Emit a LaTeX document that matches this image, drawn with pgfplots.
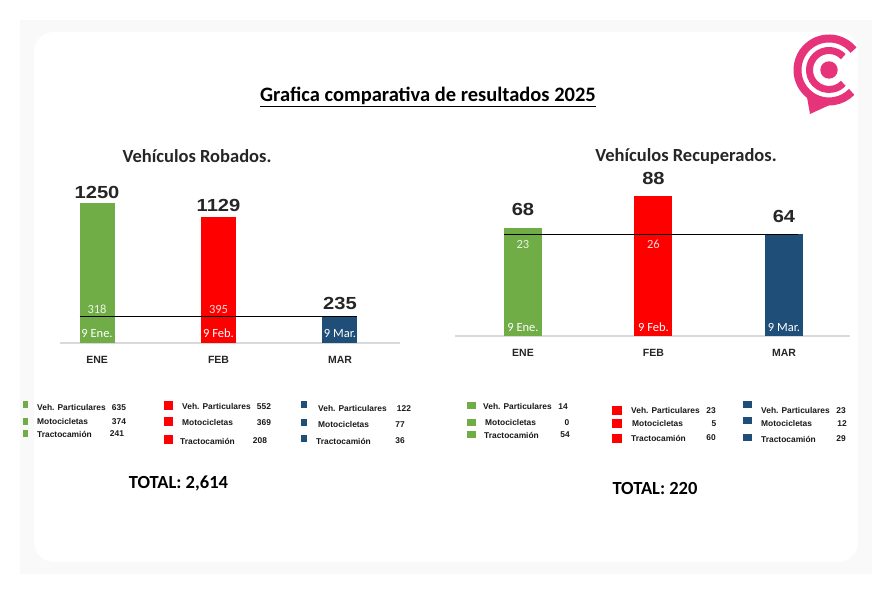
\documentclass[border=0pt]{standalone}
\usepackage{pgfplots}
\pgfplotsset{compat=1.18}
\usepackage{fontspec}
\setmainfont{Carlito}
\newfontfamily\arial{Liberation Sans}
\definecolor{cgreen}{HTML}{70AD47}
\definecolor{cred}{HTML}{FF0000}
\definecolor{cblue}{HTML}{1F4E79}
\definecolor{cpink}{HTML}{E6337A}
\definecolor{ctext}{HTML}{262626}
\definecolor{cbase}{HTML}{D9D9D9}
\newcommand\legf{\arial\bfseries\fontsize{8.4}{10}\selectfont}
\newcommand\sq[3]{\textcolor{#1}{\rule{#2pt}{#3pt}}}
\pgfplotsset{
  mybars/.style={
    scale only axis, anchor=south west, clip=false,
    ymin=0, axis y line=none, axis x line*=bottom,
    x axis line style={-, draw=cbase, line width=1.2pt},
    xtick={0,1,2}, xticklabels={ENE,FEB,MAR}, major tick length=0pt,
    xticklabel style={font=\arial\bfseries\fontsize{10.5}{12}\selectfont, text=ctext, yshift=-10pt},
    /pgf/number format/assume math mode=true,
    /pgf/number format/1000 sep={},
  },
  valnodes/.style={nodes near coords={\scalebox{1.15}[1]{\pgfmathprintnumber{\pgfplotspointmeta}}},
    nodes near coords style={font=\arial\bfseries\fontsize{17.5}{19}\selectfont, text=ctext, anchor=south, inner sep=0pt, yshift=#1}},
}
\begin{document}
\begin{tikzpicture}[x=1pt,y=1pt]
\useasboundingbox (0,0) rectangle (892,594);
\fill[white] (0,0) rectangle (892,594);
\fill[black!2.5] (20,20) rectangle (872,574);
\fill[white, rounded corners=20pt] (34,32) rectangle (858,562);
% titles
\node[font=\bfseries\fontsize{20.5}{24}\selectfont, text=black] at (428,{594-97}) {\underline{Grafica comparativa de resultados 2025}};
\node[font=\bfseries\fontsize{18.5}{21}\selectfont, text=ctext] at (197,{594-156}) {Vehículos Robados.};
\node[font=\bfseries\fontsize{18.5}{21}\selectfont, text=ctext] at (686,{594-156}) {Vehículos Recuperados.};
% left chart
\begin{axis}[mybars, at={(60pt,251pt)}, width=340pt, height=156.8pt, xmin=-0.305, xmax=2.494, ymax=1400]
\addplot[ybar, bar width=35pt, fill=cgreen, draw=none, valnodes=4pt] coordinates {(0,1250)};
\addplot[ybar, bar width=35pt, fill=cred, draw=none, valnodes=5pt] coordinates {(1,1129)};
\addplot[ybar, bar width=35pt, fill=cblue, draw=none, valnodes=7pt] coordinates {(2,235)};
\addplot[black, line width=0.8pt] coordinates {(-0.144,235) (2.144,235)};
\node[font=\fontsize{12.5}{14}\selectfont, text=white, opacity=0.85] at (axis cs:0,300) {318};
\node[font=\fontsize{12.5}{14}\selectfont, text=white, opacity=0.85] at (axis cs:1,300) {395};
\node[font=\fontsize{12.5}{14}\selectfont, text=white] at (axis cs:0,85) {9 Ene.};
\node[font=\fontsize{12.5}{14}\selectfont, text=white] at (axis cs:1,85) {9 Feb.};
\node[font=\fontsize{12.5}{14}\selectfont, text=white] at (axis cs:2,85) {9 Mar.};
\end{axis}
% right chart
\begin{axis}[mybars, at={(455pt,258pt)}, width=395pt, height=159pt, xmin=-0.521, xmax=2.506, ymax=100]
\addplot[ybar, bar width=38pt, fill=cgreen, draw=none, valnodes=12pt] coordinates {(0,68)};
\addplot[ybar, bar width=38pt, fill=cred, draw=none, valnodes=11pt] coordinates {(1,88)};
\addplot[ybar, bar width=38pt, fill=cblue, draw=none, valnodes=11pt] coordinates {(2,64)};
\addplot[black, line width=0.8pt] coordinates {(-0.146,64) (2.11,64)};
\node[font=\fontsize{12.5}{14}\selectfont, text=white, opacity=0.85] at (axis cs:0,57.5) {23};
\node[font=\fontsize{12.5}{14}\selectfont, text=white, opacity=0.85] at (axis cs:1,57.5) {26};
\node[font=\fontsize{12.5}{14}\selectfont, text=white] at (axis cs:0,5.5) {9 Ene.};
\node[font=\fontsize{12.5}{14}\selectfont, text=white] at (axis cs:1,5.5) {9 Feb.};
\node[font=\fontsize{12.5}{14}\selectfont, text=white] at (axis cs:2,5.5) {9 Mar.};
\end{axis}
% legends
\begin{scope}[every node/.style={font=\legf, text=black!90, inner sep=0pt}]
\node at (25.5,{594-405}) {\sq{cgreen}{5}{7}};
\node at (25.5,{594-422}) {\sq{cgreen}{5}{7}};
\node at (25.5,{594-434}) {\sq{cgreen}{5}{7}};
\node[anchor=west] at (37,{594-408}) {Veh. Particulares};
\node[anchor=west] at (37,{594-422}) {Motocicletas};
\node[anchor=west] at (37,{594-434}) {Tractocamión};
\node at (119,{594-408}) {635};
\node at (119,{594-422}) {374};
\node at (117,{594-434}) {241};
\node at (168.5,{594-406}) {\sq{cred}{9}{9}};
\node at (168.5,{594-422}) {\sq{cred}{9}{9}};
\node at (168.5,{594-440}) {\sq{cred}{9}{9}};
\node[anchor=west] at (182,{594-407}) {Veh. Particulares};
\node[anchor=west] at (182,{594-423}) {Motocicletas};
\node[anchor=west] at (180,{594-441}) {Tractocamión};
\node at (264,{594-407}) {552};
\node at (264,{594-423}) {369};
\node at (260,{594-441}) {208};
\node at (304,{594-405}) {\sq{cblue}{6.5}{7}};
\node at (304,{594-423}) {\sq{cblue}{6.5}{7}};
\node at (304,{594-439}) {\sq{cblue}{6.5}{7}};
\node[anchor=west] at (318,{594-409}) {Veh. Particulares};
\node[anchor=west] at (318,{594-425}) {Motocicletas};
\node[anchor=west] at (316,{594-441}) {Tractocamión};
\node at (404,{594-409}) {122};
\node at (400,{594-425}) {77};
\node at (400,{594-441}) {36};
\node at (471.5,{594-406}) {\sq{cgreen}{9}{7}};
\node at (471.5,{594-423}) {\sq{cgreen}{9}{7}};
\node at (471.5,{594-435}) {\sq{cgreen}{9}{7}};
\node[anchor=west] at (483,{594-407}) {Veh. Particulares};
\node[anchor=west] at (485,{594-423}) {Motocicletas};
\node[anchor=west] at (484,{594-435}) {Tractocamión};
\node at (563,{594-407}) {14};
\node at (567,{594-423}) {0};
\node at (565,{594-435}) {54};
\node at (617,{594-411}) {\sq{cred}{10}{9}};
\node at (617,{594-424}) {\sq{cred}{10}{9}};
\node at (617,{594-439}) {\sq{cred}{10}{9}};
\node[anchor=west] at (631,{594-411}) {Veh. Particulares};
\node[anchor=west] at (632,{594-424}) {Motocicletas};
\node[anchor=west] at (631,{594-438}) {Tractocamión};
\node at (711,{594-411}) {23};
\node at (714,{594-424}) {5};
\node at (711,{594-438}) {60};
\node at (747,{594-405}) {\sq{cblue}{9}{7}};
\node at (747,{594-421}) {\sq{cblue}{9}{7}};
\node at (747,{594-438}) {\sq{cblue}{9}{7}};
\node[anchor=west] at (761,{594-411}) {Veh. Particulares};
\node[anchor=west] at (761,{594-424}) {Motocicletas};
\node[anchor=west] at (761,{594-439}) {Tractocamión};
\node at (841,{594-411}) {23};
\node at (842,{594-424}) {12};
\node at (841,{594-439}) {29};
\end{scope}
% totals
\node[font=\bfseries\fontsize{18.5}{21}\selectfont, text=black] at (178.5,{594-483}) {TOTAL: 2,614};
\node[font=\bfseries\fontsize{18.5}{21}\selectfont, text=black] at (655,{594-489}) {TOTAL: 220};
% logo
\begin{scope}[shift={(829,{594-70})}]
\draw[cpink, line width=8pt] (39:31.5) arc[start angle=39, end angle=316, radius=31.5];
\draw[cpink, line width=7pt] (43:19.5) arc[start angle=43, end angle=317, radius=19.5];
\fill[cpink] (0,0) circle[radius=8.7];
\fill[cpink] (-24,-16) -- (-19,-44) -- (5,-33) -- (-8,-30) -- cycle;
\end{scope}
\end{tikzpicture}
\end{document}
